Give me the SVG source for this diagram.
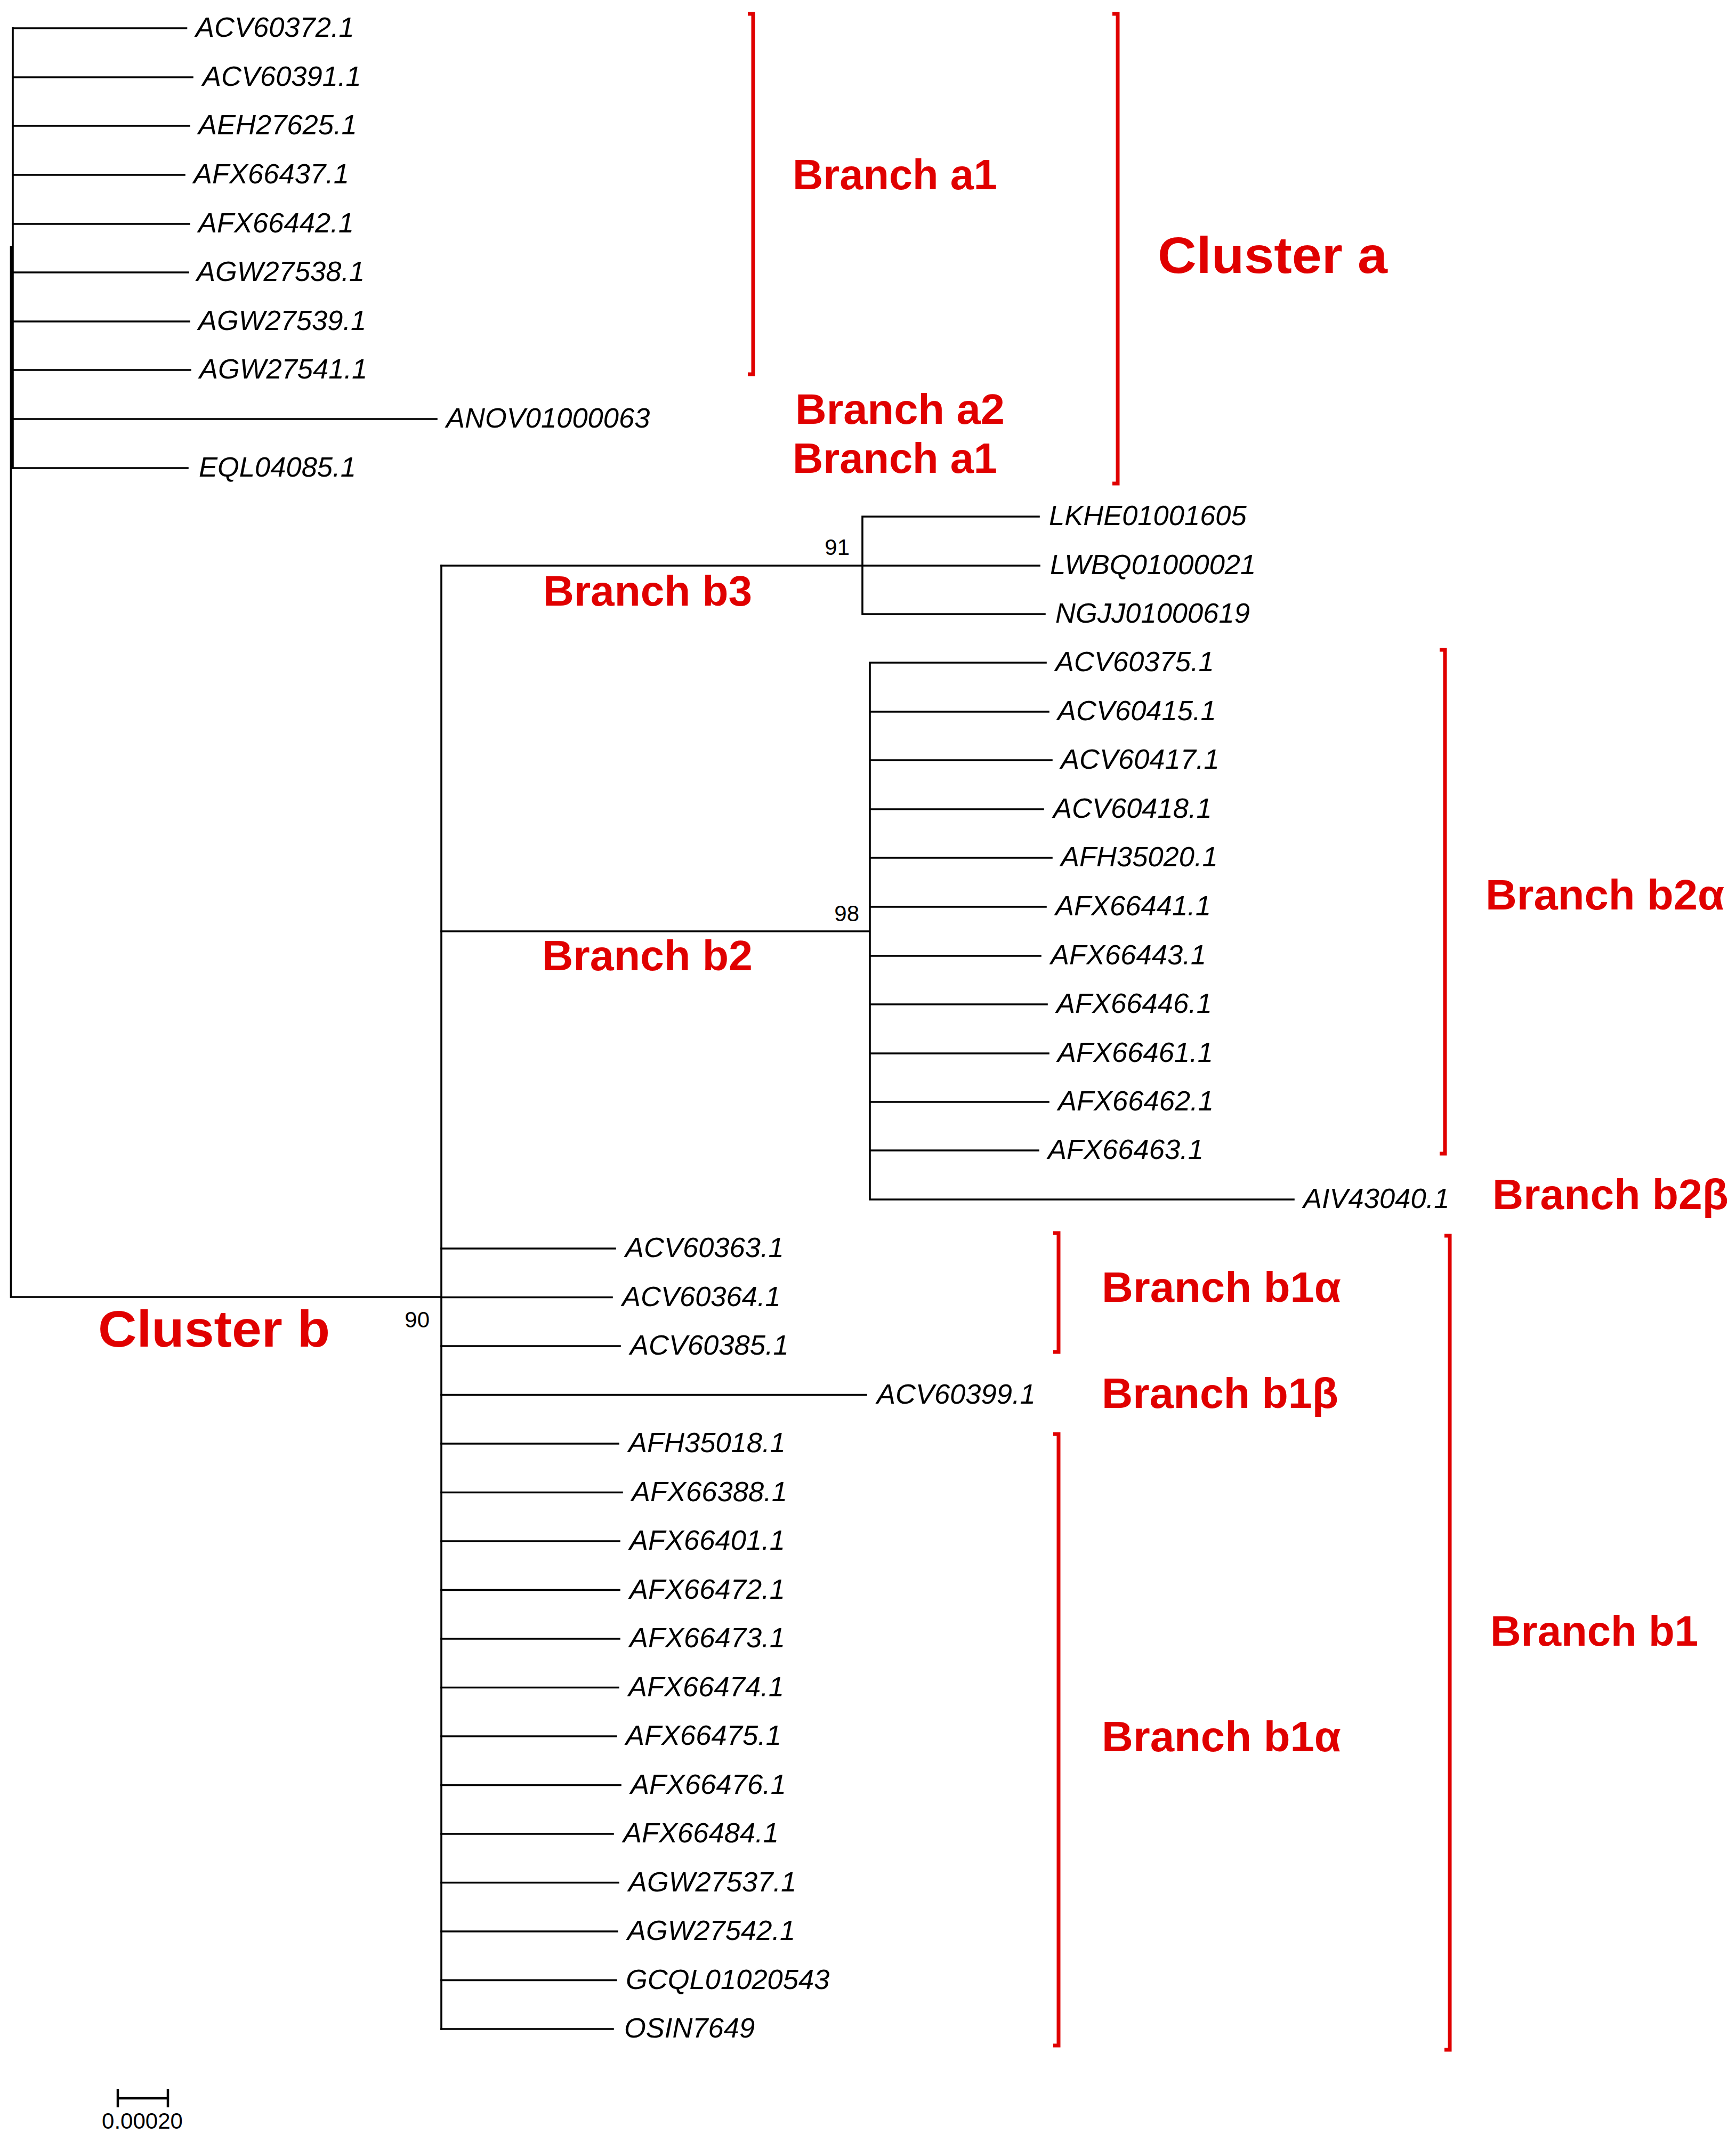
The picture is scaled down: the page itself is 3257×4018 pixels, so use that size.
<svg xmlns="http://www.w3.org/2000/svg" width="3257" height="4018" viewBox="0 0 3257 4018">
<style>
.br{stroke:#000;stroke-width:3.6;fill:none;stroke-linecap:square}
.lf{font-family:"Liberation Sans",Arial,sans-serif;font-style:italic;font-size:52.5px;fill:#000}
.bs{font-family:"Liberation Sans",Arial,sans-serif;font-size:42px;fill:#000;text-anchor:end}
.rl{font-family:"Liberation Sans",Arial,sans-serif;font-weight:bold;font-size:80px;fill:#e00000}
.rc{font-family:"Liberation Sans",Arial,sans-serif;font-weight:bold;font-size:96px;fill:#e00000}
.bk{stroke:#e00000;stroke-width:7;fill:none;stroke-linejoin:miter}
</style>
<rect width="3257" height="4018" fill="#fff"/>
<g id="connectors">
<path class="br" d="M24 53V878M20.5 463V2433H828M828 1061V3806"/>
<path class="br" d="M24 53H349.5M24 145H361M24 236H355M24 328H346M24 420H355M24 511H353M24 603H355M24 694H357M24 786H819M24 878H352"/>
<path class="br" d="M828 1061H1618M1618 969V1152M1618 969H1949M1618 1061H1950M1618 1152H1960"/>
<path class="br" d="M828 1747H1632M1632 1243V2250M1632 1243H1962M1632 1335H1967M1632 1426H1973M1632 1518H1957M1632 1609H1973M1632 1701H1962M1632 1793H1952M1632 1884H1964M1632 1976H1967M1632 2067H1967M1632 2158H1948M1632 2250H2427"/>
<path class="br" d="M828 2342H1154M828 2433.5H1148M828 2525H1163M828 2616.5H1625M828 2708H1160M828 2799.5H1167M828 2891H1162M828 2982.5H1162M828 3074H1162M828 3165.5H1160M828 3257H1156M828 3348.5H1164M828 3440H1150M828 3531.5H1160M828 3623H1158M828 3714.5H1156M828 3806H1150"/>
</g>
<g id="leaves-cluster-a">
<g id="ACV60372.1"><text class="lf" x="367" y="69">ACV60372.1</text></g>
<g id="ACV60391.1"><text class="lf" x="380" y="161">ACV60391.1</text></g>
<g id="AEH27625.1"><text class="lf" x="372" y="252">AEH27625.1</text></g>
<g id="AFX66437.1"><text class="lf" x="363" y="344">AFX66437.1</text></g>
<g id="AFX66442.1"><text class="lf" x="372" y="436">AFX66442.1</text></g>
<g id="AGW27538.1"><text class="lf" x="369" y="527">AGW27538.1</text></g>
<g id="AGW27539.1"><text class="lf" x="372" y="619">AGW27539.1</text></g>
<g id="AGW27541.1"><text class="lf" x="374" y="710">AGW27541.1</text></g>
<g id="ANOV01000063"><text class="lf" x="837" y="802">ANOV01000063</text></g>
<g id="EQL04085.1"><text class="lf" x="373" y="894">EQL04085.1</text></g>
</g>
<g id="leaves-b3">
<g id="LKHE01001605"><text class="lf" x="1968" y="985">LKHE01001605</text></g>
<g id="LWBQ01000021"><text class="lf" x="1970" y="1077">LWBQ01000021</text></g>
<g id="NGJJ01000619"><text class="lf" x="1980" y="1168">NGJJ01000619</text></g>
</g>
<g id="leaves-b2">
<g id="ACV60375.1"><text class="lf" x="1980" y="1259">ACV60375.1</text></g>
<g id="ACV60415.1"><text class="lf" x="1984" y="1351">ACV60415.1</text></g>
<g id="ACV60417.1"><text class="lf" x="1990" y="1442">ACV60417.1</text></g>
<g id="ACV60418.1"><text class="lf" x="1976" y="1534">ACV60418.1</text></g>
<g id="AFH35020.1"><text class="lf" x="1990" y="1625">AFH35020.1</text></g>
<g id="AFX66441.1"><text class="lf" x="1980" y="1717">AFX66441.1</text></g>
<g id="AFX66443.1"><text class="lf" x="1971" y="1809">AFX66443.1</text></g>
<g id="AFX66446.1"><text class="lf" x="1982" y="1900">AFX66446.1</text></g>
<g id="AFX66461.1"><text class="lf" x="1984" y="1992">AFX66461.1</text></g>
<g id="AFX66462.1"><text class="lf" x="1985" y="2083">AFX66462.1</text></g>
<g id="AFX66463.1"><text class="lf" x="1966" y="2174">AFX66463.1</text></g>
<g id="AIV43040.1"><text class="lf" x="2445" y="2266">AIV43040.1</text></g>
</g>
<g id="leaves-b1">
<g id="ACV60363.1"><text class="lf" x="1173" y="2358">ACV60363.1</text></g>
<g id="ACV60364.1"><text class="lf" x="1167" y="2449.5">ACV60364.1</text></g>
<g id="ACV60385.1"><text class="lf" x="1182" y="2541">ACV60385.1</text></g>
<g id="ACV60399.1"><text class="lf" x="1645" y="2632.5">ACV60399.1</text></g>
<g id="AFH35018.1"><text class="lf" x="1179" y="2724">AFH35018.1</text></g>
<g id="AFX66388.1"><text class="lf" x="1185" y="2815.5">AFX66388.1</text></g>
<g id="AFX66401.1"><text class="lf" x="1181" y="2907">AFX66401.1</text></g>
<g id="AFX66472.1"><text class="lf" x="1181" y="2998.5">AFX66472.1</text></g>
<g id="AFX66473.1"><text class="lf" x="1181" y="3090">AFX66473.1</text></g>
<g id="AFX66474.1"><text class="lf" x="1179" y="3181.5">AFX66474.1</text></g>
<g id="AFX66475.1"><text class="lf" x="1174" y="3273">AFX66475.1</text></g>
<g id="AFX66476.1"><text class="lf" x="1183" y="3364.5">AFX66476.1</text></g>
<g id="AFX66484.1"><text class="lf" x="1169" y="3456">AFX66484.1</text></g>
<g id="AGW27537.1"><text class="lf" x="1179" y="3547.5">AGW27537.1</text></g>
<g id="AGW27542.1"><text class="lf" x="1177" y="3639">AGW27542.1</text></g>
<g id="GCQL01020543"><text class="lf" x="1174" y="3730.5">GCQL01020543</text></g>
<g id="OSIN7649"><text class="lf" x="1171" y="3822">OSIN7649</text></g>
</g>
<g id="support-values">
<text class="bs" x="1594" y="1041">91</text>
<text class="bs" x="1612" y="1728">98</text>
<text class="bs" x="806" y="2490">90</text>
</g>
<g id="annotations">
<g id="bracket-a1"><path class="bk" d="M1403 26H1413V702H1403"/><text class="rl" x="1487" y="355" textLength="384" lengthAdjust="spacingAndGlyphs">Branch a1</text></g>
<g id="label-a2"><text class="rl" x="1492" y="795" textLength="393" lengthAdjust="spacingAndGlyphs">Branch a2</text></g>
<g id="label-a1b"><text class="rl" x="1487" y="887" textLength="384" lengthAdjust="spacingAndGlyphs">Branch a1</text></g>
<g id="bracket-cluster-a"><path class="bk" d="M2087 26H2097V907H2087"/><text class="rc" x="2172" y="512" textLength="431" lengthAdjust="spacingAndGlyphs">Cluster a</text></g>
<g id="label-b3"><text class="rl" x="1019" y="1136" textLength="392" lengthAdjust="spacingAndGlyphs">Branch b3</text></g>
<g id="label-b2"><text class="rl" x="1017" y="1820" textLength="395" lengthAdjust="spacingAndGlyphs">Branch b2</text></g>
<g id="bracket-b2a"><path class="bk" d="M2701 1219H2711V2164H2701"/><text class="rl" x="2787" y="1706" textLength="448" lengthAdjust="spacingAndGlyphs">Branch b2α</text></g>
<g id="label-b2b"><text class="rl" x="2800" y="2268" textLength="443" lengthAdjust="spacingAndGlyphs">Branch b2β</text></g>
<g id="bracket-b1a-top"><path class="bk" d="M1976 2313H1986V2536H1976"/><text class="rl" x="2067" y="2442" textLength="449" lengthAdjust="spacingAndGlyphs">Branch b1α</text></g>
<g id="label-b1b"><text class="rl" x="2067" y="2641" textLength="444" lengthAdjust="spacingAndGlyphs">Branch b1β</text></g>
<g id="bracket-b1a-bottom"><path class="bk" d="M1976 2690H1986V3837H1976"/><text class="rl" x="2067" y="3285" textLength="449" lengthAdjust="spacingAndGlyphs">Branch b1α</text></g>
<g id="bracket-b1"><path class="bk" d="M2710 2318H2720V3845H2710"/><text class="rl" x="2796" y="3087" textLength="390" lengthAdjust="spacingAndGlyphs">Branch b1</text></g>
<g id="label-cluster-b"><text class="rc" x="184" y="2526" textLength="435" lengthAdjust="spacingAndGlyphs">Cluster b</text></g>
</g>
<g id="scale-bar">
<path d="M221 3936H315M221 3919V3953M315 3919V3953" stroke="#000" stroke-width="4.5" fill="none"/>
<text x="267" y="3993" font-family="Liberation Sans, Arial, sans-serif" font-size="42" text-anchor="middle" fill="#000">0.00020</text>
</g>
</svg>
